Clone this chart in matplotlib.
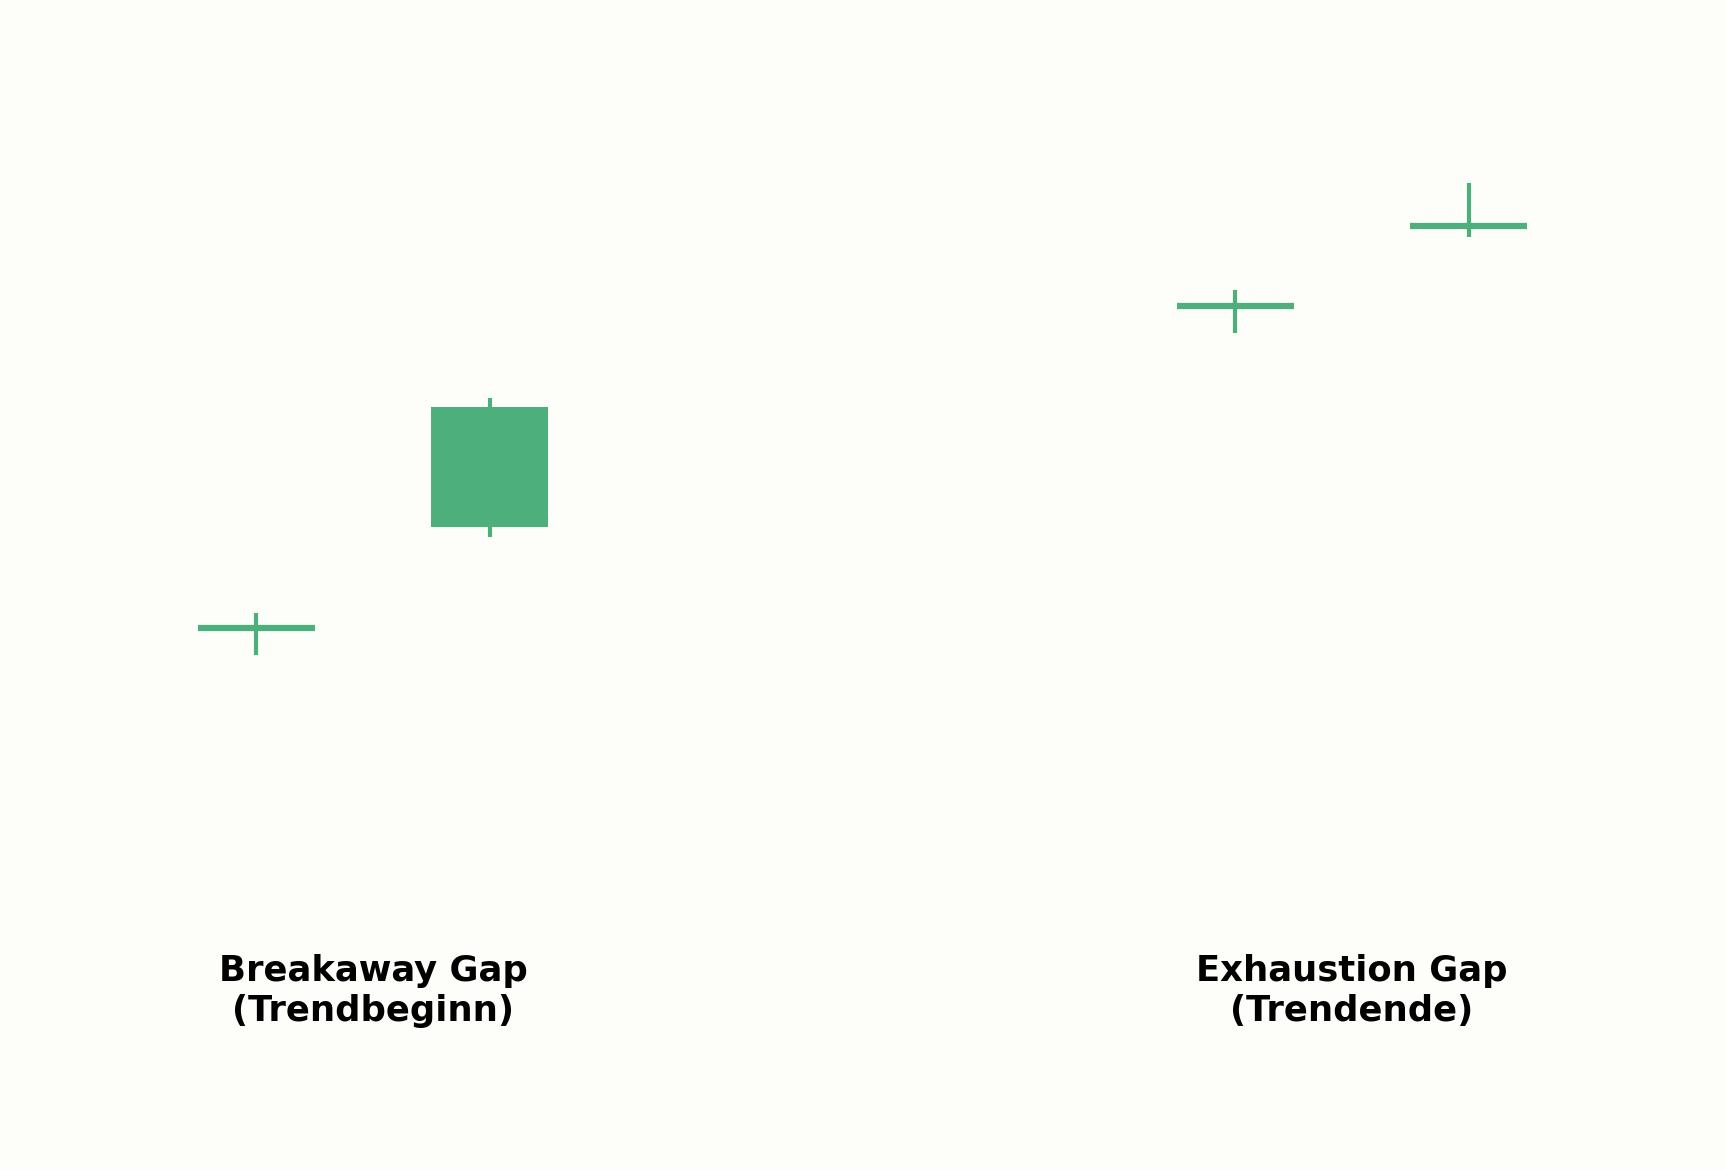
import matplotlib
matplotlib.use("Agg")
import matplotlib.pyplot as plt

# candle data (x position, open, high, low, close)
positions = [1.0, 2.0, 5.2, 6.2]
opens = [54.2, 64.3, 86.4, 94.4]
highs = [55.7, 77.2, 88.0, 98.7]
lows = [51.5, 63.3, 83.7, 93.3]
closes = [54.2, 76.3, 86.4, 94.4]

label_x = [1.5, 5.7]
label_y = [17.9, 17.9]
labels = ["Breakaway Gap\n(Trendbeginn)", "Exhaustion Gap\n(Trendende)"]

green = "#4daf7c"
bg = "#fdfdf9"

fig = plt.figure(figsize=(11.5, 7.8), dpi=150, facecolor=bg)
ax = fig.add_axes([0, 0, 1, 1])
ax.set_facecolor(bg)

width = 0.5
for x, o, h, l, c in zip(positions, opens, highs, lows, closes):
    ax.vlines(x, l, h, color=green, linewidth=2)
    if abs(c - o) < 0.05:
        ax.hlines(o, x - width / 2, x + width / 2, color=green, linewidth=3)
    else:
        ax.bar(x, c - o, bottom=min(o, c), width=width, color=green,
               edgecolor="none", zorder=3)

for x, y, t in zip(label_x, label_y, labels):
    ax.text(x, y, t, ha="center", va="center", fontsize=17,
            fontweight="bold", color="black")

ax.set_xlim(-0.1, 7.3)
ax.set_ylim(0, 117)
ax.axis("off")

fig.savefig("out.png", dpi=150, facecolor=bg)
